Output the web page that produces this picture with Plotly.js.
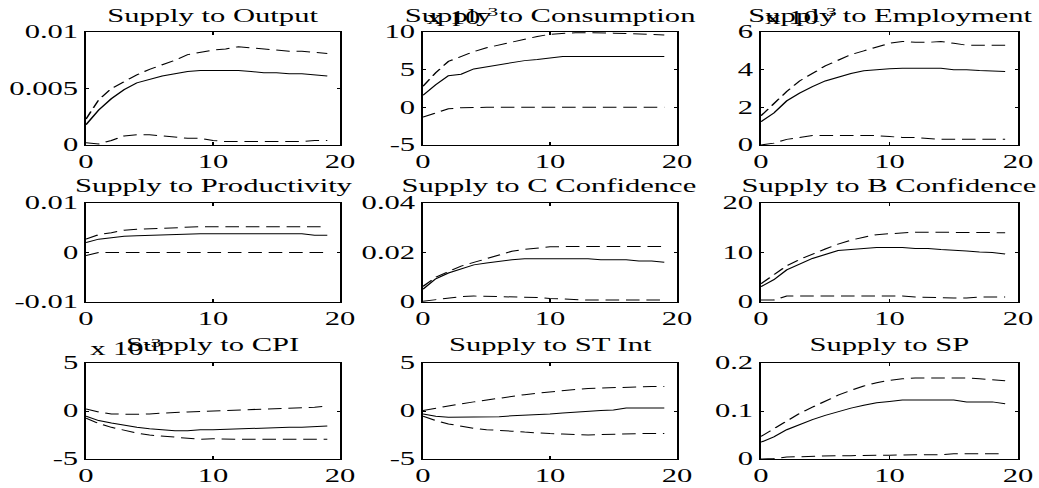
<!DOCTYPE html>
<html><head><meta charset="utf-8">
<script src="https://cdn.plot.ly/plotly-3.0.1.min.js"></script>
<style>
html,body{margin:0;padding:0;background:#fff;overflow:hidden}
#wrap{width:1039px;height:488px;overflow:hidden;position:relative}
#chart{width:611px;height:488px;transform:scaleX(1.70049);transform-origin:0 0}
</style>
</head><body><div id="wrap"><div id="chart"></div></div>
<script>
// horizon (periods)
const periods = [0,1,2,3,4,5,6,7,8,9,10,11,12,13,14,15,16,17,18,19];

const titles = ["Supply to Output","Supply to Consumption","Supply to Employment",
  "Supply to Productivity","Supply to C Confidence","Supply to B Confidence",
  "Supply to CPI","Supply to ST Int","Supply to SP"];

// Output
const outputMid = [0.0018,0.0031,0.0041,0.0049,0.0055,0.0058,0.0061,0.0063,0.0065,0.0066,0.0066,0.0066,0.0066,0.0065,0.0064,0.0064,0.0063,0.0063,0.0062,0.0061];
const outputUp  = [0.0023,0.0040,0.0050,0.0056,0.0062,0.0067,0.0071,0.0075,0.0080,0.0082,0.0084,0.0085,0.0087,0.0086,0.0085,0.0084,0.0083,0.0083,0.0082,0.0081];
const outputLo  = [0.0002,0.0001,0.0004,0.0008,0.0009,0.0009,0.0008,0.0007,0.0006,0.0006,0.0004,0.0003,0.0003,0.0003,0.0003,0.0003,0.0003,0.0003,0.0004,0.0004];
// Consumption (x 10^-3)
const consMid = [1.6,3.0,4.2,4.4,5.1,5.4,5.7,6.0,6.2,6.35,6.5,6.75,6.75,6.75,6.75,6.75,6.75,6.75,6.75,6.75];
const consUp  = [2.8,4.6,6.1,6.8,7.4,7.9,8.3,8.7,9.1,9.4,9.7,9.85,9.9,9.9,9.9,9.85,9.8,9.7,9.7,9.6];
const consLo  = [-1.3,-0.8,-0.2,-0.05,0,0,0,0,0,0,0,0,0,0,0,0,0,0,0,0];
// Employment (x 10^-3)
const empMid = [1.24,1.7,2.34,2.75,3.1,3.4,3.6,3.8,3.94,4.0,4.05,4.07,4.07,4.07,4.07,4.0,4.0,3.95,3.93,3.9];
const empUp  = [1.55,2.2,2.84,3.4,3.8,4.2,4.5,4.8,5.0,5.2,5.4,5.5,5.45,5.45,5.5,5.4,5.3,5.3,5.3,5.3];
const empLo  = [0,0.1,0.3,0.4,0.5,0.5,0.5,0.5,0.5,0.5,0.45,0.4,0.4,0.35,0.3,0.3,0.3,0.3,0.3,0.3];
// Productivity
const prodMid = [0.0020,0.0027,0.0030,0.0033,0.0034,0.0035,0.0036,0.0037,0.0038,0.0038,0.0038,0.0038,0.0038,0.0038,0.0038,0.0038,0.0038,0.0038,0.0035,0.0035];
const prodUp  = [0.0027,0.0036,0.0040,0.0045,0.0047,0.0048,0.0050,0.0051,0.0052,0.0052,0.0052,0.0052,0.0052,0.0052,0.0052,0.0052,0.0052,0.0052,0.0052,0.0052];
const prodLo  = [-0.0006,0,0,0,0,0,0,0,0,0,0,0,0,0,0,0,0,0,0,0];
// C Confidence
const ccMid = [0.0052,0.0094,0.0117,0.0133,0.0150,0.0158,0.0165,0.0171,0.0175,0.0175,0.0175,0.0175,0.0175,0.0175,0.0171,0.0171,0.0171,0.0166,0.0166,0.0161];
const ccUp  = [0.0063,0.0100,0.0123,0.0145,0.0160,0.0175,0.0190,0.0205,0.0213,0.0218,0.0223,0.0224,0.0224,0.0224,0.0224,0.0224,0.0224,0.0224,0.0224,0.0224];
const ccLo  = [0.0003,0.0010,0.0017,0.0022,0.0024,0.0023,0.0023,0.0023,0.0021,0.0018,0.0014,0.0011,0.0009,0.0008,0.0008,0.0008,0.0008,0.0008,0.0008,0.0008];
// B Confidence
const bcMid = [3.1,4.5,6.5,7.7,8.8,9.6,10.4,10.6,10.8,11.0,11.0,11.0,10.8,10.8,10.6,10.5,10.3,10.1,10.0,9.7];
const bcUp  = [3.7,5.5,7.3,8.6,9.7,10.7,11.7,12.5,13.1,13.6,13.8,14.0,14.1,14.1,14.1,14.1,14.1,14.1,14.0,14.0];
const bcLo  = [0.4,0.4,1.2,1.2,1.2,1.2,1.2,1.2,1.2,1.2,1.2,1.2,1.0,0.9,0.8,0.8,0.8,1.0,1.0,1.0];
// CPI (x 10^-3)
const cpiMid = [-0.55,-1.0,-1.25,-1.5,-1.7,-1.85,-1.95,-2.05,-2.05,-1.95,-1.95,-1.9,-1.85,-1.8,-1.75,-1.7,-1.7,-1.7,-1.6,-1.55];
const cpiUp  = [0.2,-0.1,-0.3,-0.35,-0.35,-0.3,-0.2,-0.15,-0.1,-0.05,0,0,0.1,0.15,0.2,0.25,0.3,0.3,0.4,0.5];
const cpiLo  = [-0.75,-1.3,-1.7,-2.0,-2.3,-2.5,-2.6,-2.75,-2.85,-2.95,-2.9,-2.95,-2.95,-2.95,-2.95,-2.95,-2.95,-2.95,-2.95,-2.95];
// ST Int
const stMid = [-0.3,-0.55,-0.65,-0.65,-0.65,-0.65,-0.6,-0.5,-0.45,-0.35,-0.3,-0.2,-0.1,-0.05,0.05,0.1,0.3,0.3,0.3,0.3];
const stUp  = [0.05,0.3,0.5,0.75,0.95,1.15,1.35,1.55,1.7,1.85,2.0,2.1,2.25,2.35,2.4,2.45,2.5,2.55,2.55,2.55];
const stLo  = [-0.55,-1.0,-1.35,-1.6,-1.8,-1.95,-2.0,-2.1,-2.2,-2.3,-2.35,-2.4,-2.45,-2.5,-2.45,-2.4,-2.35,-2.35,-2.35,-2.35];
// SP
const spMid = [0.035,0.046,0.061,0.072,0.082,0.091,0.099,0.106,0.112,0.117,0.120,0.123,0.123,0.123,0.123,0.123,0.119,0.119,0.119,0.115];
const spUp  = [0.047,0.063,0.080,0.095,0.108,0.121,0.133,0.143,0.152,0.159,0.164,0.167,0.169,0.169,0.169,0.169,0.169,0.167,0.165,0.163];
const spLo  = [0,0.001,0.004,0.005,0.006,0.006,0.007,0.007,0.008,0.008,0.008,0.009,0.009,0.009,0.009,0.011,0.011,0.011,0.011,0.011];

// axis ticks
const xTickVals = [0,10,20];
const xTickText = ["0","10","20"];
const yRanges = [[0,0.01],[-5,10],[0,6],[-0.01,0.01],[0,0.04],[0,20],[-5,5],[-5,5],[0,0.2]];
const yTickVals = [[0,0.005,0.01],[-5,0,5,10],[0,2,4,6],[-0.01,0,0.01],[0,0.02,0.04],[0,10,20],[-5,0,5],[-5,0,5],[0,0.1,0.2]];
const yTickText = [["0","0.005","0.01"],["-5","0","5","10"],["0","2","4","6"],["-0.01","0","0.01"],["0","0.02","0.04"],["0","10","20"],["-5","0","5"],["-5","0","5"],["0","0.1","0.2"]];
const scaledPanels = [1,2,6];
const exponentLabel = "x 10<sup>-3</sup>";

const mids = [outputMid,consMid,empMid,prodMid,ccMid,bcMid,cpiMid,stMid,spMid];
const ups  = [outputUp,consUp,empUp,prodUp,ccUp,bcUp,cpiUp,stUp,spUp];
const los  = [outputLo,consLo,empLo,prodLo,ccLo,bcLo,cpiLo,stLo,spLo];

const H = 488;
const colDom = [[86/1039,340/1039],[423/1039,677/1039],[761/1039,1018/1039]];
const rowPx = [[32,145],[203,302],[363,459]];
const titleY = [16,186,345];
const FONT = {family:"'Liberation Serif','Times New Roman',serif", size:18, color:"#000"};

const traces = [];
const layout = {
  width:611, height:488, margin:{l:0,r:0,t:0,b:0},
  paper_bgcolor:"#fff", plot_bgcolor:"#fff", showlegend:false,
  font:FONT, annotations:[]
};

for (let i=0;i<9;i++){
  const r = Math.floor(i/3), c = i%3, n = i+1;
  const xa = n===1 ? "x" : "x"+n, ya = n===1 ? "y" : "y"+n;
  const dash = {color:"#000", width:1, dash:"8px,4px"};
  traces.push({x:periods, y:ups[i], xaxis:xa, yaxis:ya, mode:"lines", line:dash, hoverinfo:"skip"});
  traces.push({x:periods, y:los[i], xaxis:xa, yaxis:ya, mode:"lines", line:dash, hoverinfo:"skip"});
  traces.push({x:periods, y:mids[i], xaxis:xa, yaxis:ya, mode:"lines", line:{color:"#000",width:1}, hoverinfo:"skip"});
  const yd = [1-rowPx[r][1]/H, 1-rowPx[r][0]/H];
  layout["xaxis"+(n===1?"":n)] = {
    domain:colDom[c], anchor:ya, range:[0,20], tickmode:"array", tickvals:xTickVals, ticktext:xTickText,
    showline:true, mirror:"ticks", linecolor:"#000", linewidth:1, ticks:"inside", ticklen:3, tickcolor:"#000",
    showgrid:false, zeroline:false, tickfont:FONT, fixedrange:true
  };
  layout["yaxis"+(n===1?"":n)] = {
    domain:yd, anchor:xa, range:yRanges[i], tickmode:"array", tickvals:yTickVals[i], ticktext:yTickText[i],
    showline:true, mirror:"ticks", linecolor:"#000", linewidth:1, ticks:"inside", ticklen:2, tickcolor:"#000",
    showgrid:false, zeroline:false, tickfont:FONT, fixedrange:true
  };
  layout.annotations.push({
    text:titles[i], xref:"paper", yref:"paper", x:(colDom[c][0]+colDom[c][1])/2, y:1-titleY[r]/H,
    xanchor:"center", yanchor:"middle", showarrow:false, font:FONT
  });
  if (scaledPanels.indexOf(i) >= 0){
    layout.annotations.push({
      text:exponentLabel, xref:"paper", yref:"paper", x:colDom[c][0], y:yd[1]+2/H,
      xanchor:"left", yanchor:"bottom", showarrow:false, font:FONT
    });
  }
}

Plotly.newPlot("chart", traces, layout, {staticPlot:true, displayModeBar:false});
</script></body></html>
